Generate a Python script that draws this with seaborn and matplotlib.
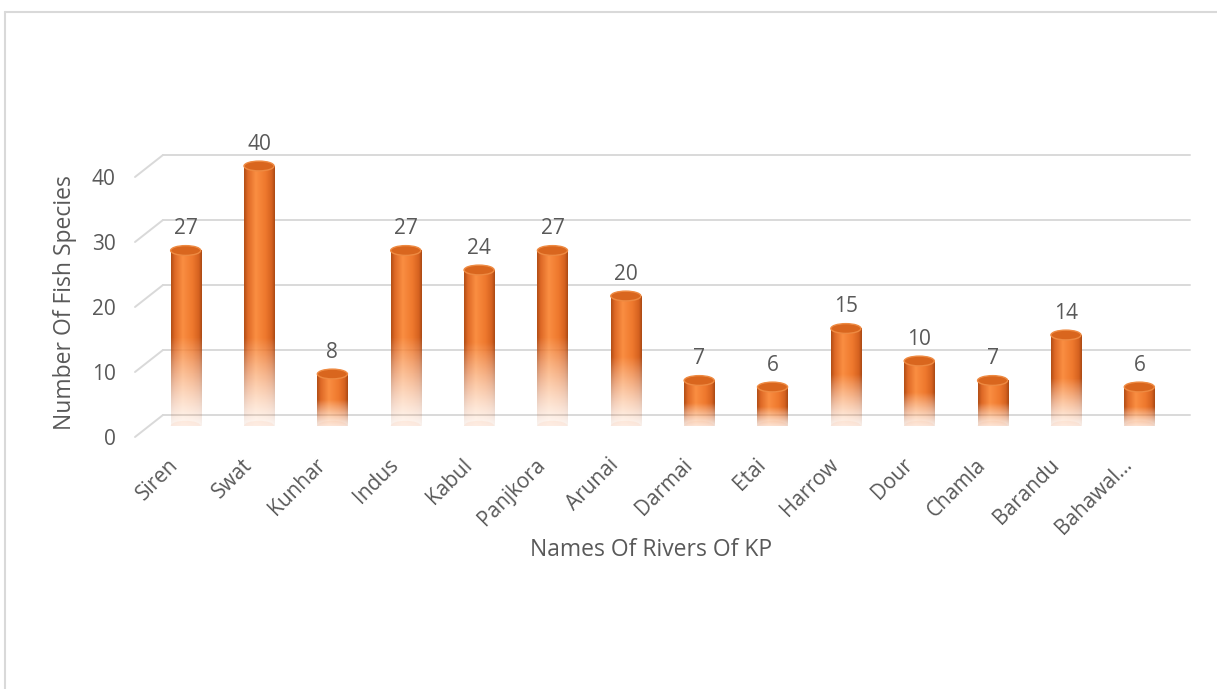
import numpy as np
import pandas as pd
import matplotlib
matplotlib.use("Agg")
import matplotlib.pyplot as plt
import matplotlib.transforms as mtransforms
from matplotlib.patches import Ellipse
from matplotlib.lines import Line2D
import seaborn as sns

# ---- data ----
rivers = ["Siren", "Swat", "Kunhar", "Indus", "Kabul", "Panjkora", "Arunai",
          "Darmai", "Etai", "Harrow", "Dour", "Chamla", "Barandu", "Bahawal..."]
species = [27, 40, 8, 27, 24, 27, 20, 7, 6, 15, 10, 7, 14, 6]
y_ticks = [0, 10, 20, 30, 40]
x_title = "Names Of Rivers Of KP"
y_title = "Number Of Fish Species"

df = pd.DataFrame({"river": rivers, "n": species})

sns.set_theme(style="white")
plt.rcParams["font.family"] = ["Open Sans", "DejaVu Sans"]
TXT = "#595959"
GRID = "#D9D9D9"
FS = 15

W, H = 1217, 689
fig = plt.figure(figsize=(W / 100, H / 100), dpi=100)
fig.patch.set_facecolor("white")

# axes placement (pixel coords from top)
left_px, right_px = 149, 1176
zero_px, forty_px = 426, 166
ymax = 46
top_px = zero_px - (zero_px - forty_px) / 40 * ymax
ax = fig.add_axes([left_px / W, 1 - zero_px / H,
                   (right_px - left_px) / W, (zero_px - top_px) / H])

sns.barplot(data=df, x="river", y="n", ax=ax, width=0.41,
            color="#ED7D31", saturation=1, zorder=3)
ax.set_xlim(-0.5, len(rivers) - 0.5)
ax.set_ylim(0, ymax)

for s in ax.spines.values():
    s.set_visible(False)
ax.set_xlabel("")
ax.set_ylabel("")
ax.set_yticks(y_ticks)
ax.tick_params(axis="both", length=0, colors=TXT, labelsize=FS)
ax.tick_params(axis="y", pad=14)
ax.grid(False)

dx_in, dy_in = 0.14, 0.11  # 3D depth offset (inches)

# back-plane gridlines and diagonal stubs
back = ax.get_yaxis_transform() + mtransforms.ScaledTranslation(dx_in, dy_in, fig.dpi_scale_trans)
for v in y_ticks:
    ax.plot([0, 1], [v, v], transform=back, color=GRID, lw=1.4, zorder=1, clip_on=False)
    t = fig.dpi_scale_trans + mtransforms.ScaledTranslation(0, v, ax.get_yaxis_transform())
    fig.add_artist(Line2D([-dx_in, dx_in], [-dy_in, dy_in], transform=t, color=GRID, lw=1.4))

# y tick labels on the front plane
for lab in ax.get_yticklabels():
    lab.set_transform(lab.get_transform() + mtransforms.ScaledTranslation(-dx_in, -dy_in, fig.dpi_scale_trans))

# x tick labels rotated
ax.set_xticks(range(len(rivers)))
ax.set_xticklabels(rivers, rotation=45, ha="right", va="center", rotation_mode="anchor",
                   fontsize=FS, color=TXT)
for lab in ax.get_xticklabels():
    lab.set_transform(lab.get_transform() + mtransforms.ScaledTranslation(-0.10, -0.31, fig.dpi_scale_trans))

# cylinder shading
nx, ny = 80, 300
tx = np.linspace(0, 1, nx)
stops_t = [0.0, 0.12, 0.38, 0.7, 0.9, 1.0]
stops_c = np.array([[178, 78, 22], [222, 105, 38], [250, 142, 66],
                    [238, 120, 45], [214, 98, 32], [172, 74, 20]]) / 255.0
row_rgb = np.stack([np.interp(tx, stops_t, stops_c[:, k]) for k in range(3)], axis=1)

bars = list(ax.patches)
for p, v in zip(bars, species):
    x0, w, h = p.get_x(), p.get_width(), p.get_height()
    p.set_facecolor("none")
    p.set_edgecolor("none")
    yv = np.linspace(0, h, ny)
    fade = min(0.55 * h, 14.0)
    a = 0.05 + 0.95 * np.clip(yv / fade, 0, 1) ** 1.3
    img = np.zeros((ny, nx, 4))
    img[:, :, :3] = row_rgb[None, :, :]
    img[:, :, 3] = a[:, None]
    ax.imshow(img, extent=(x0, x0 + w, -0.8, h), origin="lower",
              aspect="auto", zorder=3, interpolation="bilinear")
    bot = Ellipse((x0 + w / 2, 0), w, 1.6, facecolor=(0.97, 0.6, 0.4, 0.10),
                  edgecolor="none", zorder=2.9)
    ax.add_patch(bot)
    cap = Ellipse((x0 + w / 2, h), w, 1.5, facecolor="#D9661E",
                  edgecolor="#EE8A42", lw=1.0, zorder=4)
    ax.add_patch(cap)

ax.set_xlim(-0.5, len(rivers) - 0.5)
ax.set_ylim(0, ymax)

# value labels
ax.bar_label(ax.containers[0], labels=[str(v) for v in species], padding=8,
             fontsize=FS, color=TXT, zorder=5)

# axis titles
fig.text(651 / W, 1 - 550 / H, x_title, ha="center", va="center", fontsize=16.5, color=TXT)
fig.text(65 / W, 1 - 303 / H, y_title, ha="center", va="center", rotation=90,
         fontsize=16.5, color=TXT)

# chart border (top and left)
fig.add_artist(Line2D([5 / W, 5 / W], [0, 1 - 12 / H], transform=fig.transFigure, color="#D9D9D9", lw=1.5))
fig.add_artist(Line2D([5 / W, 1], [1 - 12 / H, 1 - 12 / H], transform=fig.transFigure, color="#D9D9D9", lw=1.5))

fig.savefig("out.png", dpi=100, facecolor="white")
